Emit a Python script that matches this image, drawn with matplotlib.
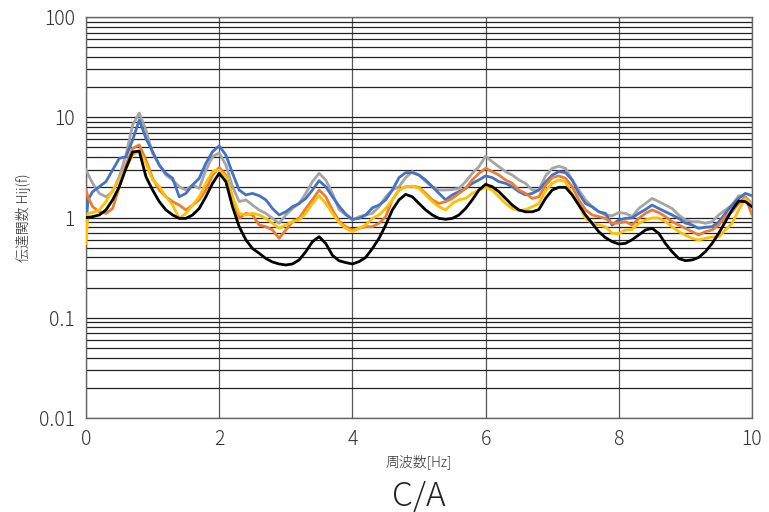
import matplotlib
matplotlib.use("Agg")
import matplotlib.pyplot as plt
from matplotlib.ticker import LogLocator, FixedLocator

plt.rcParams['font.family'] = ['Noto Sans CJK JP', 'DejaVu Sans']

freq = [0.0, 0.03] + [round(0.1 * i, 1) for i in range(1, 101)]

black = [1.0, 1.0, 1.02, 1.06, 1.19, 1.5, 2.03, 3.09, 4.5, 4.6, 2.55,
         1.88, 1.44, 1.19, 1.06, 0.98, 0.98, 1.06, 1.23, 1.61, 2.19,
         2.76, 2.28, 1.28, 0.81, 0.60, 0.49, 0.44, 0.39, 0.36, 0.344,
         0.336, 0.344, 0.377, 0.456, 0.574, 0.644, 0.55, 0.42, 0.37, 0.355,
         0.344, 0.363, 0.40, 0.49, 0.62, 0.84, 1.19, 1.5, 1.70, 1.61,
         1.38, 1.19, 1.06, 0.98, 0.96, 0.98, 1.06, 1.23, 1.5, 1.88,
         2.14, 2.03, 1.81, 1.55, 1.33, 1.19, 1.14, 1.14, 1.2, 1.55,
         1.88, 2.0, 2.0, 1.68, 1.33, 1.06, 0.875, 0.72, 0.63, 0.574,
         0.544, 0.552, 0.60, 0.67, 0.75, 0.78, 0.695, 0.55, 0.456, 0.39,
         0.371, 0.377, 0.40, 0.456, 0.55, 0.695, 0.909, 1.19, 1.46, 1.44,
         1.28]

blue = [0.85, 1.5, 1.81, 2.03, 2.28, 2.98, 3.89, 4.04, 5.93, 9.39, 6.16,
        4.54, 3.34, 2.76, 2.46, 1.61, 1.74, 2.11, 2.46, 3.47, 4.54,
        5.17, 4.20, 2.76, 1.88, 1.68, 1.74, 1.65, 1.50, 1.23, 1.06,
        1.14, 1.28, 1.38, 1.55, 1.88, 2.33, 2.03, 1.61, 1.30, 1.08,
        0.96, 0.98, 1.06, 1.25, 1.33, 1.50, 1.88, 2.5, 2.8, 2.8,
        2.65, 2.37, 2.03, 1.74, 1.50, 1.68, 1.81, 1.95, 2.19, 2.37,
        2.6, 2.5, 2.28, 2.19, 2.03, 1.81, 1.68, 1.74, 1.88, 2.25,
        2.65, 2.87, 2.8, 2.37, 1.74, 1.38, 1.28, 1.14, 1.10, 0.842,
        0.944, 0.98, 0.99, 1.10, 1.2, 1.33, 1.23, 1.14, 1.06, 0.98,
        0.88, 0.842, 0.78, 0.8, 0.81, 0.9, 1.10, 1.33, 1.55, 1.74,
        1.65]

gray = [2.98, 2.7, 2.19, 1.74, 1.61, 1.81, 2.55, 4.20, 8.37, 11.0, 7.46,
        4.37, 3.34, 2.65, 2.37, 2.03, 1.88, 2.11, 1.95, 2.98, 4.04,
        4.4, 3.34, 2.03, 1.44, 1.5, 1.33, 1.19, 1.10, 0.98, 0.875,
        1.06, 1.23, 1.38, 1.74, 2.28, 2.76, 2.37, 1.74, 1.2, 1.06,
        0.944, 1.02, 1.06, 1.10, 1.28, 1.61, 1.88, 2.03, 2.5, 2.87,
        2.65, 2.28, 2.03, 1.88, 1.88, 1.9, 1.95, 2.28, 2.76, 3.21,
        4.1, 3.6, 3.21, 2.87, 2.65, 2.37, 2.19, 1.88, 1.88, 2.6,
        3.09, 3.25, 3.09, 2.37, 1.88, 1.5, 1.28, 1.14, 1.06, 1.04,
        1.12, 1.10, 1.02, 1.23, 1.38, 1.55, 1.44, 1.33, 1.23, 1.06,
        0.944, 0.909, 0.909, 0.875, 0.909, 1.06, 1.19, 1.33, 1.65, 1.61,
        1.38]

orange = [1.88, 1.6, 1.28, 1.14, 1.10, 1.23, 2.03, 3.34, 4.9, 5.3, 3.75,
          2.46, 1.88, 1.61, 1.44, 1.33, 1.19, 1.33, 1.50, 1.88, 2.65,
          3.15, 2.65, 1.61, 0.98, 1.10, 1.06, 0.842, 0.81, 0.75, 0.62,
          0.75, 0.909, 0.98, 1.23, 1.5, 1.88, 1.61, 1.19, 0.92, 0.81,
          0.75, 0.78, 0.81, 0.81, 0.875, 1.02, 1.5, 1.88, 2.03, 2.05,
          2.0, 1.74, 1.5, 1.38, 1.44, 1.55, 1.74, 1.95, 2.37, 2.76,
          3.09, 2.87, 2.65, 2.37, 2.19, 1.88, 1.74, 1.55, 1.61, 2.1,
          2.5, 2.6, 2.46, 2.03, 1.5, 1.19, 1.06, 1.02, 0.98, 0.875,
          0.88, 0.909, 0.842, 0.98, 1.10, 1.19, 1.12, 1.02, 0.909, 0.842,
          0.78, 0.722, 0.669, 0.722, 0.75, 0.842, 1.02, 1.14, 1.38, 1.61,
          1.06]

yellow = [0.55, 1.1, 1.12, 1.19, 1.44, 1.88, 2.37, 3.09, 4.2, 4.6, 3.47,
          2.37, 2.03, 1.61, 1.33, 0.98, 1.10, 1.33, 1.61, 2.19, 2.87,
          2.98, 2.55, 1.61, 1.10, 1.06, 1.10, 1.06, 0.98, 0.875, 0.78,
          0.842, 0.909, 0.944, 1.10, 1.38, 1.65, 1.38, 1.10, 0.89, 0.78,
          0.722, 0.78, 0.842, 0.98, 1.06, 1.23, 1.5, 1.88, 2.03, 2.05,
          1.95, 1.68, 1.44, 1.28, 1.19, 1.38, 1.5, 1.55, 1.74, 1.88,
          2.0, 1.88, 1.61, 1.38, 1.23, 1.17, 1.2, 1.28, 1.38, 1.85,
          2.19, 2.37, 2.28, 1.68, 1.33, 0.98, 0.875, 0.842, 0.81, 0.695,
          0.69, 0.75, 0.76, 0.875, 0.944, 0.99, 0.99, 0.909, 0.81, 0.722,
          0.669, 0.62, 0.596, 0.62, 0.64, 0.64, 0.75, 0.875, 1.19, 1.55,
          1.28]

x_ticks = [0, 2, 4, 6, 8, 10]
y_ticks = [0.01, 0.1, 1, 10, 100]
y_tick_labels = ["0.01", "0.1", "1", "10", "100"]

fig = plt.figure(figsize=(7.69, 5.12), dpi=100)
ax = fig.add_axes([86 / 769, 1 - 418 / 512, (752 - 86) / 769, (418 - 17) / 512])

ax.plot(freq, gray, color="#A5A5A5", lw=2.0, zorder=3)
ax.plot(freq, blue, color="#4472C4", lw=2.0, zorder=4)
ax.plot(freq, orange, color="#ED7D31", lw=2.0, zorder=4)
ax.plot(freq, yellow, color="#FFC000", lw=2.0, zorder=5)
ax.plot(freq, black, color="black", lw=2.0, zorder=6)

ax.set_yscale("log")
ax.set_xlim(0, 10)
ax.set_ylim(0.01, 100)
ax.xaxis.set_major_locator(FixedLocator(x_ticks))
ax.set_xticklabels([str(t) for t in x_ticks])
ax.yaxis.set_major_locator(FixedLocator(y_ticks))
ax.set_yticklabels(y_tick_labels)
ax.yaxis.set_minor_locator(LogLocator(base=10, subs=range(2, 10)))
ax.yaxis.set_minor_formatter(plt.NullFormatter())

ax.grid(True, which="both", axis="y", color="#222222", lw=0.9, zorder=1)
ax.grid(True, which="major", axis="x", color="#555555", lw=0.9, zorder=1)
ax.set_axisbelow(True)
for s in ax.spines.values():
    s.set_color("#666666")
    s.set_linewidth(1.0)

ax.tick_params(which="both", length=0, labelsize=14, colors="#333333", pad=8)
ax.tick_params(axis="x", pad=8)
for lab in ax.get_xticklabels() + ax.get_yticklabels():
    lab.set_fontweight("light")

ax.set_xlabel("周波数[Hz]", fontsize=10, color="#333333", labelpad=3,
              fontweight="light")
ax.set_ylabel("伝達関数 Hij(f)", fontsize=10, color="#333333", labelpad=6,
              fontweight="light")

fig.text((86 + 752) / 2 / 769, 1 - 496 / 512, "C/A", ha="center", va="center",
         fontsize=24, color="#222222", fontweight="light")

fig.savefig("out.png", dpi=100)
